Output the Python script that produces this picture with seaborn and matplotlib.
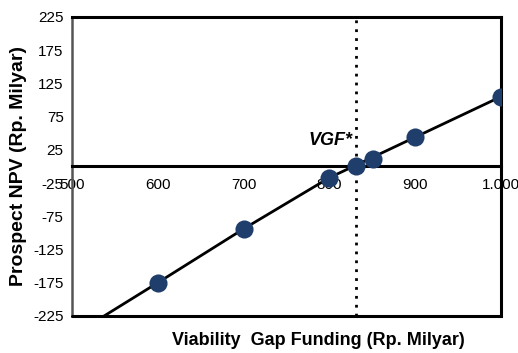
import matplotlib
matplotlib.use("Agg")
import matplotlib.pyplot as plt
import seaborn as sns
import pandas as pd

sns.set_theme(style="white")
plt.rcParams['font.family'] = ['Liberation Sans', 'DejaVu Sans']
plt.rcParams['axes.unicode_minus'] = False
plt.rcParams['text.color'] = 'black'
plt.rcParams['axes.labelcolor'] = 'black'
plt.rcParams['xtick.color'] = 'black'
plt.rcParams['ytick.color'] = 'black'

# titik hasil perhitungan NPV terhadap VGF
vgf = [600, 700, 800, 831, 851, 900, 1000]
npv = [-175, -94, -17, 0, 11, 44, 105]

# garis tren (melewati titik-titik di atas)
garis_x = [500, 600, 700, 800, 900, 1000]
garis_y = [-255, -175, -94, -17, 44, 105]

vgf_opt = 831

x_ticks = [500, 600, 700, 800, 900, 1000]
x_labels = ["500", "600", "700", "800", "900", "1.000"]
y_ticks = [225, 175, 125, 75, 25, -25, -75, -125, -175, -225]

df = pd.DataFrame({'VGF': vgf, 'NPV': npv})
df_garis = pd.DataFrame({'VGF': garis_x, 'NPV': garis_y})

fig, ax = plt.subplots(figsize=(5.18, 3.53), dpi=100)
fig.subplots_adjust(left=0.139, right=0.967, top=0.952, bottom=0.105)

sns.lineplot(x='VGF', y='NPV', data=df_garis, color='black', linewidth=2.0, ax=ax, zorder=3)
sns.scatterplot(x='VGF', y='NPV', data=df, color='#1f3e6b', s=170, edgecolor='#1f3e6b',
                linewidth=0, ax=ax, zorder=4)

ax.axvline(vgf_opt, color='black', linestyle=(0, (1, 2.2)), linewidth=2.0, zorder=2)
ax.text(vgf_opt - 4, 32, "VGF*", fontsize=13, fontweight='bold', fontstyle='italic',
        ha='right', va='baseline', color='black')

ax.set_xlim(500, 1000)
ax.set_ylim(-225, 225)
ax.set_xticks(x_ticks)
ax.set_xticklabels(x_labels)
ax.set_yticks(y_ticks)

# sumbu x di garis nol, kotak tetap digambar
ax.spines['bottom'].set_position(('data', 0))
for s in ['bottom', 'top', 'right']:
    ax.spines[s].set_linewidth(2.2)
    ax.spines[s].set_color('black')
ax.spines['left'].set_linewidth(1.8)
ax.spines['left'].set_color('#555555')
ax.axhline(-225, color='black', linewidth=2.2, clip_on=False, zorder=5)

ax.tick_params(axis='x', direction='out', length=3, width=1.5, color='black', pad=5,
               labelsize=11, labelcolor='black')
ax.tick_params(axis='y', length=0, pad=6, labelsize=11, labelcolor='black')

ax.set_xlabel("Viability  Gap Funding (Rp. Milyar)", fontsize=13, fontweight='bold')
ax.set_ylabel("Prospect NPV (Rp. Milyar)", fontsize=14, fontweight='bold')
ax.xaxis.set_label_coords(0.575, -0.055)
ax.yaxis.set_label_coords(-0.105, 0.5)

plt.savefig('out.png', dpi=100)
